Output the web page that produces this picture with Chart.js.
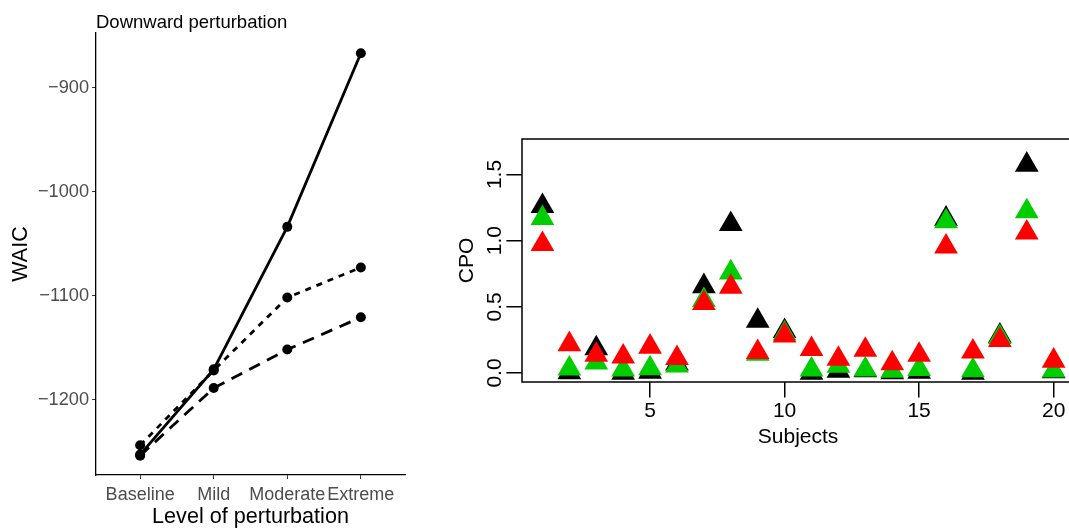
<!DOCTYPE html>
<html><head><meta charset="utf-8">
<script src="https://cdn.jsdelivr.net/npm/chart.js@4.4.1/dist/chart.umd.min.js"></script>
<style>
html,body{margin:0;padding:0;background:#fff;overflow:hidden;width:1069px;height:528px;}
#w1{position:absolute;left:0;top:0;width:420px;height:528px;}
#w2{position:absolute;left:440px;top:0;width:660px;height:528px;}
</style></head><body>
<div id="w1"><canvas id="c1"></canvas></div>
<div id="w2"><canvas id="c2"></canvas></div>
<script>
// ---- Left panel data ----
const levels = ['Baseline', 'Mild', 'Moderate', 'Extreme'];
const waicSolid  = [-1253, -1171, -1034, -867];
const waicDotted = [-1244, -1172, -1102, -1073];
const waicDashed = [-1254, -1189, -1152, -1121];
const waicTicks  = [-1200, -1100, -1000, -900];

// ---- Right panel data ----
const subjects = [1,2,3,4,5,6,7,8,9,10,11,12,13,14,15,16,17,18,19,20];
const cpoBlack = [1.26,0.005,0.185,0.0,0.009,0.07,0.655,1.124,0.393,0.316,0.0,0.016,0.02,0.004,0.008,1.165,0.001,0.281,1.573,0.012];
const cpoGreen = [1.17,0.032,0.079,0.026,0.035,0.055,0.55,0.759,0.144,0.298,0.025,0.054,0.025,0.016,0.03,1.145,0.019,0.27,1.221,0.018];
const cpoRed   = [0.973,0.217,0.136,0.123,0.198,0.112,0.527,0.65,0.157,0.283,0.18,0.106,0.175,0.073,0.136,0.955,0.161,0.248,1.06,0.092];
const subjectTicks = [5, 10, 15, 20];
const cpoTicks = [0, 0.5, 1.0, 1.5];
const cpoTickLabels = ['0.0', '0.5', '1.0', '1.5'];

const FONT = "'Liberation Sans', Arial, Helvetica, sans-serif";
Chart.defaults.font.family = FONT;
Chart.defaults.animation = false;

const toXY = (arr, xs) => arr.map((v, i) => ({x: xs[i], y: v}));
const levelX = levels.map((_, i) => i + 1);

const titlePlugin = {
  id: 'leftTitle',
  afterDraw(chart) {
    const ctx = chart.ctx;
    ctx.save();
    ctx.fillStyle = '#000';
    ctx.font = '18.5px ' + FONT;
    ctx.textAlign = 'left';
    ctx.textBaseline = 'middle';
    ctx.fillText('Downward perturbation', chart.chartArea.left, 22.7);
    ctx.restore();
  }
};

function lineDs(data, dash) {
  return {
    data: toXY(data, levelX),
    borderColor: '#000', backgroundColor: '#000',
    borderWidth: 2.8, borderDash: dash,
    pointRadius: 5, pointBorderWidth: 0, pointBackgroundColor: '#000',
    tension: 0
  };
}

new Chart(document.getElementById('c1'), {
  type: 'line',
  data: { datasets: [lineDs(waicSolid, []), lineDs(waicDotted, [6, 6]), lineDs(waicDashed, [12, 8])] },
  options: {
    responsive: true, maintainAspectRatio: false, devicePixelRatio: 1,
    layout: { padding: { left: 0, top: 33, right: 15, bottom: 0 } },
    plugins: { legend: { display: false }, tooltip: { enabled: false } },
    scales: {
      x: {
        type: 'linear', min: 0.4, max: 4.6,
        afterBuildTicks: s => { s.ticks = levelX.map(v => ({ value: v })); },
        afterFit: s => { s.height = 53; },
        ticks: { callback: v => levels[v - 1], color: '#4D4D4D', font: { size: 18 }, padding: 5, maxRotation: 0, autoSkip: false },
        grid: { drawOnChartArea: false, drawTicks: true, tickLength: 4, color: '#333', lineWidth: 1 },
        border: { display: true, color: '#000', width: 1.3 },
        title: { display: true, text: 'Level of perturbation', color: '#000', font: { size: 21.6, lineHeight: 1 }, padding: { top: 0, bottom: 0 } }
      },
      y: {
        type: 'linear', min: -1272.6, max: -847.6,
        afterBuildTicks: s => { s.ticks = waicTicks.map(v => ({ value: v })); },
        afterFit: s => { s.width = 96; },
        ticks: { callback: v => String(v).replace('-', '\u2212'), color: '#4D4D4D', font: { size: 18.2 }, padding: 3 },
        grid: { drawOnChartArea: false, drawTicks: true, tickLength: 4, color: '#333', lineWidth: 1 },
        border: { display: true, color: '#000', width: 1.3 },
        title: { display: true, text: 'WAIC', color: '#000', font: { size: 21.5 }, padding: { top: 8, bottom: 0 } }
      }
    }
  },
  plugins: [titlePlugin]
});

const boxPlugin = {
  id: 'boxAndLabels',
  afterDraw(chart) {
    const ctx = chart.ctx, a = chart.chartArea, ys = chart.scales.y;
    ctx.save();
    ctx.strokeStyle = '#000';
    ctx.lineWidth = 1.5;
    ctx.strokeRect(a.left, a.top, a.right - a.left, a.bottom - a.top);
    ctx.fillStyle = '#000';
    ctx.font = '21px ' + FONT;
    ctx.textAlign = 'center';
    ctx.textBaseline = 'middle';
    cpoTicks.forEach((v, i) => {
      const y = ys.getPixelForValue(v);
      ctx.save();
      ctx.translate(a.left - 27, y);
      ctx.rotate(-Math.PI / 2);
      ctx.fillText(cpoTickLabels[i], 0, 0);
      ctx.restore();
    });
    ctx.restore();
  }
};

function triDs(data, color, order) {
  return {
    data: toXY(data, subjects),
    pointStyle: 'triangle', pointRadius: 13.7, pointBorderWidth: 0,
    backgroundColor: color, borderColor: color, pointBackgroundColor: color,
    order: order, clip: false
  };
}

new Chart(document.getElementById('c2'), {
  type: 'scatter',
  data: { datasets: [triDs(cpoBlack, '#000000', 3), triDs(cpoGreen, '#00CD00', 2), triDs(cpoRed, '#FF0000', 1)] },
  options: {
    responsive: true, maintainAspectRatio: false, devicePixelRatio: 1,
    layout: { padding: { left: 0, top: 139, right: 25.9, bottom: 0 } },
    plugins: { legend: { display: false }, tooltip: { enabled: false } },
    scales: {
      x: {
        type: 'linear', min: 0.24, max: 20.76,
        afterBuildTicks: s => { s.ticks = subjectTicks.map(v => ({ value: v })); },
        afterFit: s => { s.height = 146; },
        ticks: { color: '#000', font: { size: 21 }, padding: 1, maxRotation: 0, autoSkip: false },
        grid: { drawOnChartArea: false, drawTicks: true, tickLength: 15.6, color: '#000', lineWidth: 1.5 },
        border: { display: false },
        title: { display: true, text: 'Subjects', color: '#000', font: { size: 21 }, padding: { top: 0, bottom: 78.4 } }
      },
      y: {
        type: 'linear', min: -0.068, max: 1.768,
        afterBuildTicks: s => { s.ticks = cpoTicks.map(v => ({ value: v })); },
        afterFit: s => { s.width = 82; },
        ticks: { display: false },
        grid: { drawOnChartArea: false, drawTicks: true, tickLength: 15.6, color: '#000', lineWidth: 1.5 },
        border: { display: false },
        title: { display: true, text: 'CPO', color: '#000', font: { size: 21 }, padding: { top: 14.4, bottom: 0 } }
      }
    }
  },
  plugins: [boxPlugin]
});
</script>
</body></html>
